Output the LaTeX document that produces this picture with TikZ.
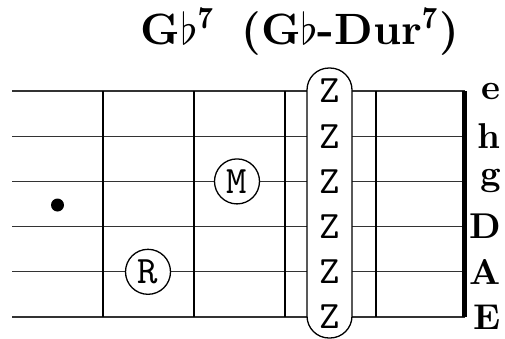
\RequirePackage{fix-cm}
\documentclass[tikz,border=0pt]{standalone}
\usepackage{fontspec}
\usepackage{graphicx}
\newcommand{\fretTT}[1]{\scalebox{3.9}{\fontsize{10}{12}\selectfont\ttfamily #1}}
\newcommand{\fretLab}[1]{\scalebox{3.6}{\fontsize{10}{12}\selectfont\bfseries #1}}
\begin{document}
\begin{tikzpicture}[x=1bp,y=-1bp,
  stringline/.style={line width=1.2bp,draw=black!80},
  fretline/.style={line width=1.6bp,draw=black},
  nutline/.style={line width=5bp,draw=black},
  fingercircle/.style={circle,draw=black,line width=1.3bp,fill=white,minimum size=45bp,inner sep=0pt},
  barrebox/.style={draw=black,line width=1.3bp,fill=white,rounded corners=22bp,minimum width=45bp,minimum height=270bp,inner sep=0pt},
  zlabel/.style={inner sep=0pt},
  stringlabel/.style={anchor=east,inner sep=0pt},
  dotmark/.style={circle,fill=black,minimum size=13bp,inner sep=0pt}
]
\useasboundingbox (0,0) rectangle (505,338);
% strings
\foreach \i/\y in {1/91,2/136.2,3/181.4,4/226.6,5/271.8,6/317}{
  \coordinate (sl\i) at (12,\y);
  \coordinate (sr\i) at (464.5,\y);
  \draw[stringline] (sl\i) -- (sr\i);
}
% frets
\foreach \i/\x in {1/103,2/194,3/285,4/376}{
  \coordinate (ft\i) at (\x,91);
  \coordinate (fb\i) at (\x,317);
  \draw[fretline] (ft\i) -- (fb\i);
}
% nut
\coordinate (nt) at (464.5,91);
\coordinate (nb) at (464.5,317);
\draw[nutline] (nt) -- (nb);
% barre
\node[barrebox] (barre) at (329.5,203) {};
\foreach \i/\y in {1/91,2/136.2,3/181.4,4/226.6,5/271.8,6/317}{
  \node[zlabel] (z\i) at (330,\y) {\fretTT{Z}};
}
% fingers
\node[fingercircle] (m) at (237,181.4) {\fretTT{M}};
\node[fingercircle] (r) at (148,271.8) {\fretTT{R}};
\node[dotmark] (dot) at (57.5,205) {};
% string labels
\foreach \i/\y/\t in {1/91/e,2/136.2/h,3/181.4/g,4/226.6/D,5/271.8/A,6/317/E}{
  \node[stringlabel] (lab\i) at (501,\y) {\fretLab{\t}};
}
% title
\node[anchor=base,inner sep=0pt] (title) at (300,44) {\scalebox{4.4}{\fontsize{10}{12}\selectfont\bfseries G$\flat^{\mathbf{7}}$\hspace{0.6em}(G$\flat$-Dur$^{\mathbf{7}}$)}};
\end{tikzpicture}
\end{document}
